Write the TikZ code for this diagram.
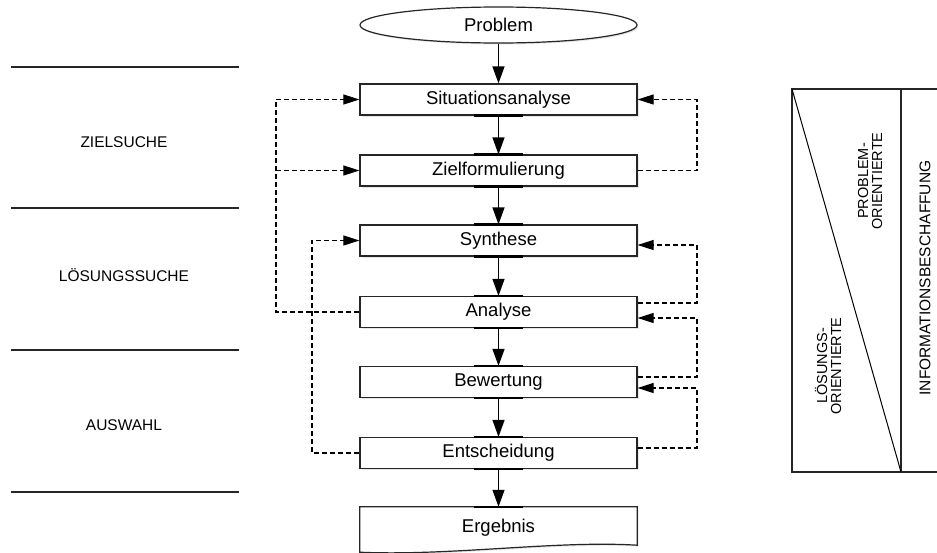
\documentclass[tikz,border=0pt]{standalone}
\usepackage{fontspec}
\setmainfont{Liberation Sans}
\usetikzlibrary{arrows.meta,shapes.geometric,shadows,backgrounds}
\begin{document}
\begin{tikzpicture}[x=1pt,y=-1pt,
  boxfont/.style={font=\fontsize{18.5}{20}\selectfont},
  stepbox/.style={draw=black!85, line width=1.2pt, fill=white, minimum width=277pt,
    minimum height=31pt, inner sep=0pt, boxfont,
    drop shadow={opacity=0.2, shadow xshift=1.5pt, shadow yshift=-1.5pt}},
  flow/.style={-{Triangle[length=17pt,width=12pt]}, line width=1.2pt},
  fb/.style={dash pattern=on 5pt off 3pt, line width=1.1pt},
  fbarrow/.style={fb, -{Triangle[length=16pt,width=10pt]}},
  port/.style={line width=2.6pt},
  sepline/.style={line width=1.3pt, black!85},
  phase/.style={font=\fontsize{15.5}{18}\selectfont},
  sidetext/.style={font=\fontsize{14.5}{14}\selectfont, align=center, rotate=90, inner sep=0pt},
  frame/.style={line width=1.3pt, black!85}
]
\useasboundingbox (0,0) rectangle (937,552);

% left phase separators and labels
\foreach \yy/\nm in {67/l1,208/l2,350/l3,492/l4}{
  \coordinate (\nm a) at (11,\yy);
  \coordinate (\nm b) at (239,\yy);
  \draw[sepline] (\nm a) -- (\nm b);
}
\node[phase] (ph1) at (124,142) {ZIELSUCHE};
\node[phase] (ph2) at (124,275) {LÖSUNGSSUCHE};
\node[phase] (ph3) at (124,425) {AUSWAHL};

% main flow
\node[ellipse, draw=black!85, line width=1.2pt, fill=white, minimum width=277pt,
  minimum height=36pt, inner sep=0pt, boxfont,
  drop shadow={opacity=0.2, shadow xshift=1.5pt, shadow yshift=-1.5pt}] (prob) at (498.5,25) {Problem};
\node[stepbox] (s1) at (498.5,99.5) {Situationsanalyse};
\node[stepbox] (s2) at (498.5,170.5) {Zielformulierung};
\node[stepbox] (s3) at (498.5,240.5) {Synthese};
\node[stepbox] (s4) at (498.5,312) {Analyse};
\node[stepbox] (s5) at (498.5,382) {Bewertung};
\node[stepbox] (s6) at (498.5,453) {Entscheidung};
\node[minimum width=277pt, minimum height=42pt, inner sep=0pt, boxfont] (erg) at (498.5,528) {Ergebnis};
\begin{scope}[on background layer]
\draw[draw=black!85, line width=1.2pt, fill=white,
  drop shadow={opacity=0.2, shadow xshift=1.5pt, shadow yshift=-1.5pt}]
  (erg.north west) -- (erg.north east) -- ([yshift=4pt]erg.south east)
  .. controls +(-80,-5) and +(90,4) .. ([yshift=-3pt]erg.south west) -- cycle;
\end{scope}

\draw[flow] (prob.south) -- (s1.north);
\draw[flow] (s1.south) -- (s2.north);
\draw[flow] (s2.south) -- (s3.north);
\draw[flow] (s3.south) -- (s4.north);
\draw[flow] (s4.south) -- (s5.north);
\draw[flow] (s5.south) -- (s6.north);
\draw[flow] (s6.south) -- (erg.north);

\foreach \p in {s1.south,s2.north,s2.south,s3.north,s3.south,s4.north,s4.south,
  s5.north,s5.south,s6.north,s6.south,erg.north}{
  \draw[port] ([xshift=-25pt]\p) -- ([xshift=24pt]\p);
}

% feedback loops, left
\coordinate (LA) at (276,0);
\coordinate (LB) at (312,0);
\draw[fbarrow] (s4.west) -- (s4.west -| LA) -- (s1.west -| LA) -- (s1.west);
\draw[fbarrow] (s2.west -| LA) -- (s2.west);
\draw[fbarrow] (s6.west) -- (s6.west -| LB) -- (s3.west -| LB) -- (s3.west);

% feedback loops, right
\coordinate (RA) at (697,0);
\coordinate (o4) at ([yshift=9pt]s4.east);
\coordinate (i3) at ([yshift=-4.5pt]s3.east);
\coordinate (o5) at ([yshift=5pt]s5.east);
\coordinate (i4) at ([yshift=-6pt]s4.east);
\coordinate (o6) at ([yshift=5pt]s6.east);
\coordinate (i5) at ([yshift=-6pt]s5.east);
\draw[fbarrow] (s2.east) -- (s2.east -| RA) -- (s1.east -| RA) -- (s1.east);
\draw[fbarrow] (o4) -- (o4 -| RA) -- (i3 -| RA) -- (i3);
\draw[fbarrow] (o5) -- (o5 -| RA) -- (i4 -| RA) -- (i4);
\draw[fbarrow] (o6) -- (o6 -| RA) -- (i5 -| RA) -- (i5);

% right panel
\coordinate (ptl) at (792,89);
\coordinate (ptr) at (940,89);
\coordinate (pbl) at (792,472);
\coordinate (pbr) at (940,472);
\coordinate (pdt) at (901,89);
\coordinate (pdb) at (901,472);
\draw[frame] (ptr) -- (ptl) -- (pbl) -- (pbr);
\draw[frame] (pdt) -- (pdb);
\draw[line width=1pt] (ptl) -- (pdb);
\node[sidetext] (po) at (870,181) {PROBLEM-\\ORIENTIERTE};
\node[sidetext] (lo) at (828,366) {LÖSUNGS-\\ORIENTIERTE};
\node[sidetext, font=\fontsize{15.5}{15}\selectfont] (ib) at (925,278) {INFORMATIONSBESCHAFFUNG};
\end{tikzpicture}
\end{document}
